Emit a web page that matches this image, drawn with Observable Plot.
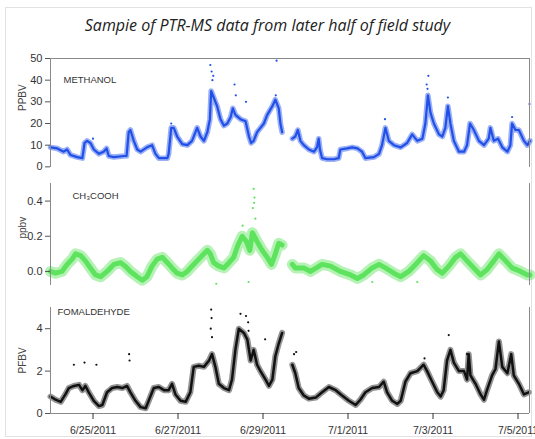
<!DOCTYPE html>
<html><head><meta charset="utf-8">
<script src="https://cdn.jsdelivr.net/npm/d3@7"></script>
<script src="https://cdn.jsdelivr.net/npm/@observablehq/plot@0.6"></script>
<style>
body{margin:0;background:#fff;}
#wrap{position:relative;width:535px;height:439px;overflow:hidden;background:#fff;}
#frame{position:absolute;left:5px;top:7px;width:527px;height:430px;border:1px solid #e2e2e2;box-sizing:border-box}
#title{position:absolute;top:15px;left:0;width:535px;text-align:center;font:italic 16px "Open Sans",sans-serif;color:#222;line-height:20px}
.p{position:absolute;left:0}
</style></head><body>
<div id="wrap"><div id="frame"></div><div id="title">Sampie of PTR-MS data from later half of field study</div>
<div class="p" id="p1" style="top:50px"></div>
<div class="p" id="p2" style="top:175px"></div>
<div class="p" id="p3" style="top:300px"></div>
</div>
<script>
// ---- data (days since 6/24/2011 00:00, values in ppbv) ----
const startDate = "6/24/2011";
const xTickLabels = ["6/25/2011","6/27/2011","6/29/2011","7/1/2011","7/3/2011","7/5/2011"];
const xEndDay = 11.27;

const methanolDays = [0,0.16,0.31,0.39,0.47,0.63,0.75,0.78,0.80,0.86,0.94,1.02,1.14,1.25,1.32,1.37,1.49,1.73,1.79,1.84,1.88,1.96,2.04,2.12,2.27,2.39,2.47,2.55,2.75,2.78,2.84,2.90,2.98,3.10,3.22,3.33,3.45,3.53,3.61,3.69,3.75,3.78,3.84,3.92,4.00,4.08,4.16,4.24,4.29,4.35,4.47,4.59,4.67,4.72,4.78,4.86,4.94,5.02,5.10,5.22,5.29,5.37,5.41,5.45,5.6,5.69,5.76,5.82,5.88,5.96,6.08,6.20,6.27,6.31,6.34,6.39,6.51,6.67,6.78,6.82,6.98,7.10,7.22,7.33,7.41,7.61,7.73,7.80,7.88,7.96,8.08,8.24,8.39,8.51,8.63,8.75,8.82,8.88,8.94,9.02,9.14,9.22,9.29,9.35,9.41,9.49,9.61,9.73,9.80,9.87,9.96,10.08,10.20,10.31,10.35,10.43,10.53,10.63,10.75,10.82,10.86,10.94,11.02,11.14,11.22,11.28];
const methanolPpbv = [9,8.5,7,8,5.5,4.5,4,8,11,12,11,8,6,7,8.5,5,4.5,5,5,16,17,12,8,7,9,10,6,4,4,6,18,18,14,10.5,10,12,18,14,12,16,22,35,32,28,22,19,20,23,27,24,22,21,14,11,12,16,18,20,24,28,31,27,20,16,null,13,14,17,12,10,8,7,9,13,8,4,3.5,3.5,4,8,8.5,9,8.5,7,4,4.5,6,10,18,12,10,9,11,15,12,13,20,33,25,20,15,14,18,28,20,12,7,7,10,20,17,12,10,13,18,12,13,9,7,10,20,17,17,12,10,12];
const methanolSpikeDays = [1.0,2.84,3.76,3.79,3.81,3.83,4.33,4.36,4.60,5.32,5.30,7.87,8.85,8.89,8.87,9.35,10.86,11.27];
const methanolSpikePpbv = [13,20,47,44,40,42,38,33,30,49,33,22,38,42,36,32,23,29];

const acidDays = [0,0.12,0.27,0.39,0.51,0.59,0.71,0.82,0.94,1.06,1.18,1.33,1.49,1.65,1.76,1.88,2.04,2.16,2.27,2.39,2.51,2.63,2.75,2.86,2.98,3.10,3.22,3.33,3.45,3.57,3.69,3.76,3.84,3.96,4.08,4.20,4.31,4.41,4.51,4.61,4.69,4.75,4.86,4.98,5.10,5.20,5.29,5.37,5.45,5.6,5.69,5.76,5.96,6.12,6.39,6.59,6.82,7.06,7.22,7.37,7.57,7.73,7.88,8.08,8.24,8.43,8.63,8.78,8.94,9.10,9.22,9.37,9.53,9.65,9.80,9.96,10.12,10.27,10.43,10.55,10.71,10.86,11.06,11.22,11.28];
const acidPpbv = [0,-0.01,0,0.04,0.07,0.10,0.09,0.06,0.02,-0.02,-0.03,0,0.04,0.05,0.03,0,-0.03,-0.05,-0.03,0.03,0.07,0.08,0.05,0.02,-0.01,-0.02,0,0.03,0.06,0.09,0.12,0.10,0.05,0.03,0.02,0.05,0.08,0.15,0.20,0.17,0.12,0.22,0.17,0.12,0.08,0.04,0.10,0.16,0.15,null,0.04,0.02,0.02,0,0.04,0.03,0,-0.02,-0.04,-0.02,0.02,0.04,0.02,-0.01,-0.03,0,0.05,0.09,0.06,0.01,-0.01,0.03,0.08,0.10,0.06,0.02,-0.02,0.01,0.06,0.10,0.06,0.02,0,-0.02,-0.02];
const acidSpikeDays = [4.52,4.76,4.78,4.80,4.82,4.79,3.90,4.66,7.57,8.63];
const acidSpikePpbv = [0.26,0.36,0.47,0.42,0.30,0.39,-0.07,-0.06,-0.06,-0.06];

const formDays = [0,0.12,0.24,0.35,0.43,0.55,0.67,0.75,0.82,0.90,1.02,1.14,1.22,1.33,1.45,1.57,1.69,1.80,1.88,2.00,2.12,2.24,2.31,2.43,2.55,2.67,2.78,2.86,2.94,3.06,3.18,3.29,3.37,3.49,3.61,3.73,3.80,3.88,3.96,4.08,4.20,4.27,4.35,4.43,4.55,4.63,4.71,4.78,4.86,4.94,5.06,5.14,5.22,5.29,5.37,5.45,5.6,5.69,5.76,5.84,5.96,6.08,6.24,6.39,6.55,6.71,6.86,7.02,7.18,7.29,7.41,7.57,7.73,7.84,7.92,8.04,8.16,8.24,8.35,8.47,8.63,8.78,8.86,8.98,9.10,9.18,9.25,9.33,9.41,9.49,9.61,9.73,9.80,9.84,9.88,10.00,10.12,10.20,10.27,10.39,10.47,10.55,10.63,10.75,10.84,10.90,11.02,11.14,11.25];
const formPpbv = [0.8,0.65,0.55,0.9,1.2,1.3,1.35,1.1,1.3,1.0,0.6,0.35,0.4,1.0,1.2,1.25,1.2,1.3,1.0,0.6,0.3,0.25,0.6,1.2,1.25,1.1,1.1,1.4,0.9,0.6,0.55,1.0,2.2,2.25,2.2,2.5,2.8,2.2,1.4,1.2,1.1,1.6,3.0,4.0,3.8,3.5,2.5,3.0,2.3,2.0,1.6,1.3,1.6,2.7,3.3,3.8,null,2.3,1.9,1.2,0.85,0.7,0.75,1.0,1.25,1.1,0.85,0.6,0.4,0.65,1.0,1.2,1.25,1.5,1.0,0.6,0.45,0.6,1.5,1.9,2.0,2.3,2.0,1.5,1.0,0.8,1.1,2.5,3.0,2.4,2.0,2.0,1.6,2.8,1.8,1.4,0.9,0.65,1.1,1.8,2.1,3.4,2.2,1.9,2.8,1.8,1.4,0.9,1.0];
const formSpikeDays = [0.55,0.80,1.08,1.85,1.86,3.77,3.78,3.79,3.80,4.47,4.60,4.65,4.66,5.05,5.73,5.78,8.80,9.37,9.80];
const formSpikePpbv = [2.3,2.4,2.3,2.8,2.5,4.0,4.9,4.5,3.6,4.7,4.6,4.3,3.9,3.5,2.8,2.9,2.6,3.7,2.8];

const methanolTicks = [0,10,20,30,40,50];
const acidTicks = [0.0,0.2,0.4];
const formTicks = [0,2,4];

// ---- helpers ----
const parse = d3.timeParse("%m/%d/%Y");
const t0 = parse(startDate);
const toDate = d => new Date(+t0 + d * 864e5);
const xDomain = [t0, toDate(xEndDay)];
const tickDates = xTickLabels.map(parse);
const rows = (days, vals) => days.map((d, i) => ({t: toDate(d), v: vals[i]}));

const axisColor = "#8a8a8a";
const font = "Arial, 'Liberation Sans', sans-serif";

function panel({el, height, mt, mb, domain, ticks, tickFmt, color, bandW, coreW, data, spikes, name, nameDx, nameDy, ylabel, ylabelDy, showX, topLine}) {
  const marks = [
    Plot.line(data, {x: "t", y: "v", stroke: color, strokeWidth: bandW, strokeOpacity: 0.45, strokeLinejoin: "round"}),
    Plot.line(data, {x: "t", y: "v", stroke: color, strokeWidth: coreW, strokeLinejoin: "round"}),
    Plot.dot(spikes, {x: "t", y: "v", fill: color, r: 1.1}),
    Plot.ruleX([xDomain[0]], {stroke: axisColor}),
    Plot.ruleX([xDomain[1]], {stroke: axisColor}),
    Plot.axisY({ticks, tickSize: 5, tickPadding: 3, tickFormat: tickFmt, label: null, fontSize: 11, stroke: "#555"}),
    Plot.text([name], {frameAnchor: "top-left", dx: nameDx, dy: nameDy, fontSize: 9.5, fill: "#333", textAnchor: "start", lineAnchor: "middle"}),
    Plot.text([ylabel], {frameAnchor: "left", dx: -28, dy: ylabelDy, rotate: -90, fontSize: 10, fill: "#444"})
  ];
  if (topLine) marks.push(Plot.ruleY([domain[1]], {stroke: axisColor}));
  if (showX) {
    marks.push(Plot.ruleY([domain[0]], {stroke: axisColor}));
    marks.push(Plot.axisX({ticks: tickDates, tickSize: 6, tickPadding: 7, fontSize: 10.5, label: null,
      tickFormat: d => xTickLabels[tickDates.findIndex(e => +e === +d)]}));
  }
  const svg = Plot.plot({
    width: 535, height, marginLeft: 50, marginRight: 6, marginTop: mt, marginBottom: mb,
    style: {fontFamily: font, color: "#333", background: "transparent", overflow: "visible"},
    x: {type: "time", domain: xDomain, axis: showX ? undefined : null},
    y: {domain, axis: null},
    marks
  });
  document.getElementById(el).appendChild(svg);
}

panel({el: "p1", height: 128, mt: 8, mb: 11, domain: [-0.3, 50], ticks: methanolTicks, tickFmt: d3.format("d"),
  color: "#2150e8", bandW: 5.5, coreW: 2.2, data: rows(methanolDays, methanolPpbv), spikes: rows(methanolSpikeDays, methanolSpikePpbv),
  name: "METHANOL", nameDx: 13, nameDy: 21, ylabel: "PPBV", ylabelDy: -2, showX: false, topLine: true});
panel({el: "p2", height: 115, mt: 8, mb: 5, domain: [-0.08, 0.5], ticks: acidTicks, tickFmt: d3.format(".1f"),
  color: "#5ee35e", bandW: 11, coreW: 5, data: rows(acidDays, acidPpbv), spikes: rows(acidSpikeDays, acidSpikePpbv),
  name: "CH₃COOH", nameDx: 22, nameDy: 12, ylabel: "ppbv", ylabelDy: 4, showX: false, topLine: false});
panel({el: "p3", height: 139, mt: 7, mb: 26, domain: [0, 5], ticks: formTicks, tickFmt: d3.format("d"),
  color: "#111", bandW: 6, coreW: 2.5, data: rows(formDays, formPpbv), spikes: rows(formSpikeDays, formSpikePpbv),
  name: "FOMALDEHYDE", nameDx: 7, nameDy: 4, ylabel: "PFBV", ylabelDy: 13, showX: true, topLine: false});
</script>
</body></html>
